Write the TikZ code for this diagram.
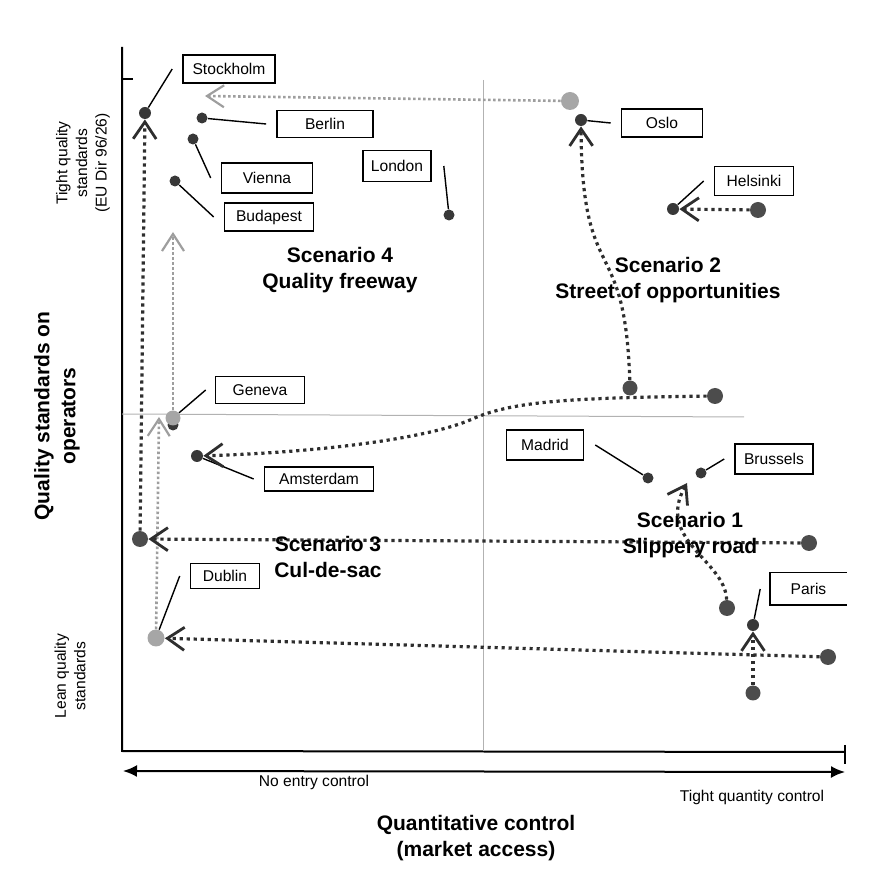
\documentclass[tikz,border=0pt]{standalone}
\usepackage{fontspec}
\setmainfont{Liberation Sans}
\usetikzlibrary{arrows.meta}

\begin{document}
\begin{tikzpicture}[x=0.5pt, y=-0.5pt,
  lab/.style={draw, line width=0.8pt, inner sep=0pt, minimum height=14pt, font=\fontsize{7.8}{9.5}\selectfont},
  dot/.style={circle, fill=black!78, inner sep=0pt, minimum size=5.5pt},
  bigdot/.style={circle, fill=black!70, inner sep=0pt, minimum size=8pt},
  greydot/.style={circle, fill=black!35, inner sep=0pt, minimum size=8.5pt},
  leader/.style={line width=0.7pt},
  road/.style={line width=1.6pt, dash pattern=on 1.6pt off 1.9pt, black!82},
  greyroad/.style={line width=1.3pt, dash pattern=on 1.3pt off 1.2pt, black!38},
  chev/.tip={Straight Barb[length=8.5pt, width=11.5pt, line width=1.4pt]},
  greychev/.tip={Straight Barb[length=8.5pt, width=11pt, line width=1.1pt]},
  scen/.style={font=\bfseries\fontsize{10.5}{13}\selectfont, align=center},
  small/.style={font=\fontsize{7.8}{9.8}\selectfont, align=center}]

\useasboundingbox (0,0) rectangle (896,877);

% draw axes
\draw [line width=1pt] (122,47) coordinate (ytop) -- (122,751) coordinate (origin) -- (845,752) coordinate (xend);
\draw [line width=1pt] (ytop |- 0,79) -- (133,79);
\draw [line width=1pt] (845,745) -- (845,764);
\draw [line width=1pt, {Latex[length=7pt,width=6pt]}-{Latex[length=7pt,width=6pt]}] (123,771) coordinate (aleft) -- (845,772) coordinate (aright);

% quadrant lines
\draw [black!30, line width=0.5pt] (483,80) -- (483,751);
\draw [black!30, line width=0.5pt] (122,414) -- (744,417);

% axis texts
\node (xlow) [small] at (314,782) {No entry control};
\node (xhigh) [small] at (752,797) {Tight quantity control};
\node (xtitle) [scen] at (476,838) {Quantitative control\\(market access)};
\node (ytitle) [scen, rotate=90] at (57,416) {Quality standards on\\operators};
\node (yhigh) [small, rotate=90] at (83,163) {Tight quality\\standards\\(EU Dir 96/26)};
\node (ylow) [small, rotate=90] at (70,676) {Lean quality\\standards};

% city boxes
\node (stolab) [lab, minimum width=46pt] at (229,69) {Stockholm};
\node (berlab) [lab, minimum width=48pt, minimum height=13.5pt] at (325,124) {Berlin};
\node (vielab) [lab, minimum width=45.5pt, minimum height=15pt] at (267,178) {Vienna};
\node (budlab) [lab, minimum width=44.5pt] at (269,217) {Budapest};
\node (lonlab) [lab, minimum width=34pt, minimum height=15.5pt] at (397,166) {London};
\node (oslab) [lab, minimum width=40.5pt] at (662,123) {Oslo};
\node (hellab) [lab, minimum width=39.5pt, minimum height=14.5pt] at (754,181) {Helsinki};
\node (genlab) [lab, minimum width=44.5pt, minimum height=13.5pt] at (260,390) {Geneva};
\node (amslab) [lab, minimum width=54.5pt, minimum height=12pt] at (319,479) {Amsterdam};
\node (dublab) [lab, minimum width=34.5pt, minimum height=12.5pt] at (225,576) {Dublin};
\node (madlab) [lab, minimum width=38.5pt, minimum height=15pt] at (545,445) {Madrid};
\node (brulab) [lab, minimum width=39pt, minimum height=15pt] at (774,459) {Brussels};
\node (parlab) [lab, draw=none, minimum width=37.5pt, minimum height=15.5pt] at (808.5,589) {Paris};
\draw [line width=0.8pt] (parlab.north east) -- (parlab.north west) -- (parlab.south west) -- (parlab.south east);

% city dots
\node (sto) [dot, minimum size=6pt] at (145,113) {};
\node (ber) [dot] at (202,118) {};
\node (vie) [dot] at (193,139) {};
\node (bud) [dot] at (175,181) {};
\node (lon) [dot] at (449,215) {};
\node (osl) [dot, minimum size=6pt] at (581,120) {};
\node (hel) [dot, minimum size=6pt] at (673,209) {};
\node (gen) [dot] at (173,425) {};
\node (gengrey) [greydot, minimum size=7.5pt] at (173,418) {};
\node (ams) [dot, minimum size=6pt] at (197,456) {};
\node (dub) [greydot] at (156,638) {};
\node (mad) [dot] at (648,478) {};
\node (bru) [dot] at (701,473) {};
\node (par) [dot, minimum size=6pt] at (753,625) {};

% starting points of the routes
\node (oslgrey) [greydot, minimum size=9pt] at (570,101) {};
\node (helstart) [bigdot] at (758,210) {};
\node (s2start) [bigdot, minimum size=7.5pt] at (630,388) {};
\node (s3ams) [bigdot] at (715,396) {};
\node (stostart) [bigdot] at (140,539) {};
\node (s3sto) [bigdot] at (809,543) {};
\node (s1start) [bigdot] at (727,608) {};
\node (dubstart) [bigdot] at (828,657) {};
\node (parstart) [bigdot, minimum size=7.5pt] at (753,693) {};

% leaders
\draw [leader] (sto) -- ([xshift=-5pt]stolab.west);
\draw [leader] (ber) -- ([xshift=-5pt]berlab.west);
\draw [leader] (vie) -- ([xshift=-5pt]vielab.west);
\draw [leader] (bud) -- ([xshift=-5pt]budlab.west);
\draw [leader] (lon) -- ([xshift=6pt]lonlab.east);
\draw [leader] (osl) -- ([xshift=-5pt]oslab.west);
\draw [leader] (hel) -- ([xshift=-5pt]hellab.west);
\draw [leader] (gengrey) -- ([xshift=-4.5pt]genlab.west);
\draw [leader] (ams) -- ([xshift=-5pt]amslab.west);
\draw [leader] (dub) -- ([xshift=-5pt]dublab.west);
\draw [leader] (mad) -- ([xshift=5.5pt]madlab.east);
\draw [leader] (bru) -- ([xshift=-5pt]brulab.west);
\draw [leader] (par) -- ([xshift=-5pt]parlab.west);

% grey routes
\coordinate (osltip) at (205,96);
\coordinate (gentip) at (173,232);
\coordinate (dubtip) at (159,417);
\draw [greyroad, -greychev] (oslgrey) -- (osltip);
\draw [greyroad, -greychev] (gengrey) -- (gentip);
\draw [greyroad, -greychev] (dub) -- (dubtip);

% dark routes
\coordinate (amsbend) at (470,420);
\coordinate (s1tip) at (687,483);
\draw [road, -chev] (stostart) -- (sto);
\draw [road, -chev] (s3sto) -- (stostart);
\draw [road, -chev] (helstart) -- (hel);
\draw [road, -chev] (s2start) .. controls (625,230) and (582,290) .. (osl);
\draw [road, -chev] (s3ams) .. controls (560,398) and (510,402) .. (amsbend) .. controls (430,437) and (330,452) .. (ams);
\draw [road, -chev] (dubstart) -- (dub);
\draw [road, -chev] (s1start) .. controls (725,560) and (655,540) .. (s1tip);
\draw [road, -chev] (parstart) -- (par);

% scenario names
\node (s4txt) [scen] at (340,270) {Scenario 4\\Quality freeway};
\node (s2txt) [scen] at (668,280) {Scenario 2\\Street of opportunities};
\node (s3txt) [scen] at (328,557) {Scenario 3\\Cul-de-sac};
\node (s1txt) [scen] at (690,535) {Scenario 1\\Slippery road};

\end{tikzpicture}
\end{document}
